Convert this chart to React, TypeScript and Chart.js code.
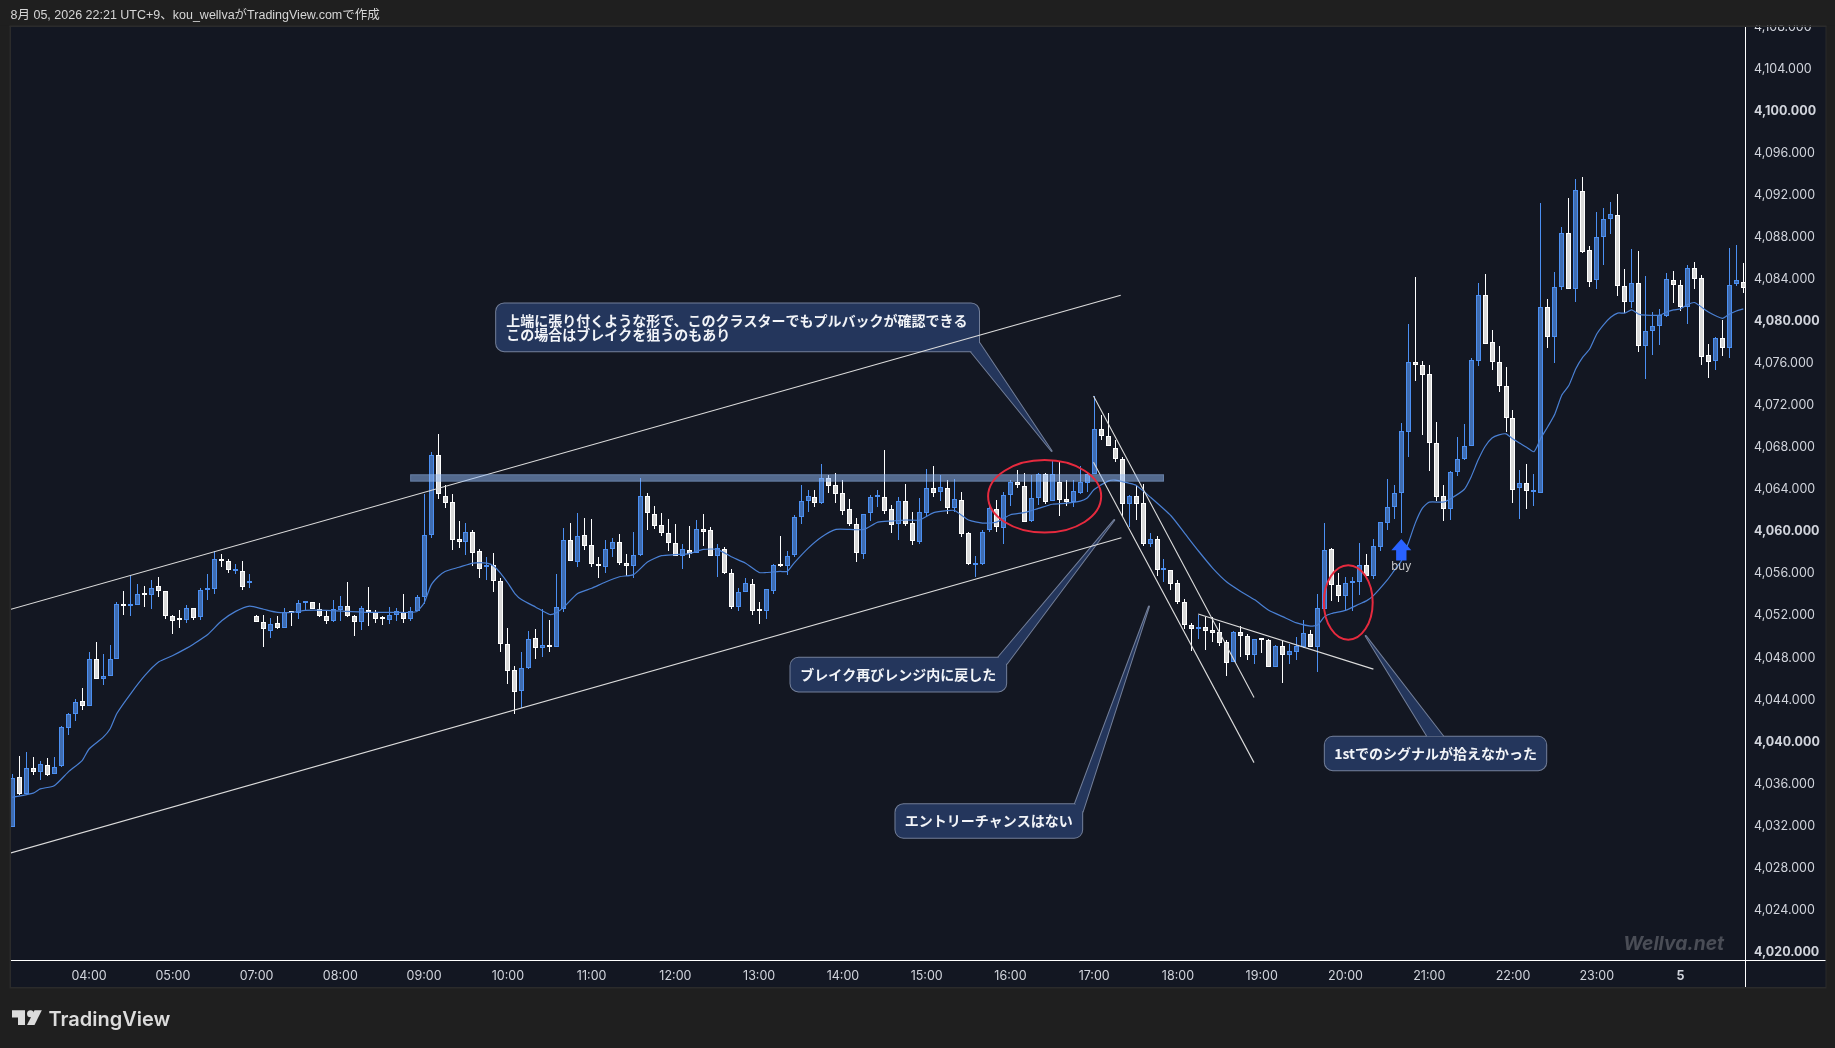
import React, { useEffect, useRef } from "react";
import { Chart, registerables } from "chart.js";

Chart.register(...registerables);

const opens = [
  4031.8,4036.5,4034.9,4037.4,4037.0,4037.7,4036.8,4037.6,4041.2,4042.5,
  4043.8,4043.3,4047.8,4045.9,4046.1,4047.8,4053.0,4052.8,4052.9,4054.0,
  4053.9,4054.7,4054.2,4051.9,4051.6,4051.5,4052.6,4051.8,4054.3,4054.4,
  4057.3,4057.1,4056.1,4056.1,4055.0,4051.9,4051.3,4050.4,4051.2,4050.7,
  4052.2,4052.1,4053.1,4053.2,4052.5,4051.9,4051.4,4052.4,4052.8,4051.9,
  4051.3,4052.4,4052.2,4051.7,4051.5,4052.0,4052.2,4051.6,4052.3,4053.7,
  4059.6,4067.2,4063.3,4062.7,4059.2,4058.9,4059.9,4058.0,4056.5,4056.7,
  4055.2,4049.2,4046.7,4044.7,4046.9,4049.8,4048.8,4049.1,4048.9,4052.5,
  4059.1,4057.0,4059.6,4058.6,4056.8,4056.5,4058.2,4058.9,4056.9,4056.6,
  4057.7,4063.3,4061.6,4060.5,4059.8,4058.8,4057.6,4058.1,4057.9,4060.1,
  4060.0,4057.6,4058.2,4056.0,4052.7,4054.1,4054.9,4052.4,4052.3,4054.2,
  4056.7,4056.6,4057.7,4061.3,4062.8,4063.2,4062.6,4065.0,4064.3,4063.6,
  4062.0,4060.6,4057.8,4061.7,4063.2,4063.2,4062.0,4060.6,4062.8,4060.7,
  4058.9,4061.7,4064.0,4063.7,4064.0,4062.1,4062.9,4059.8,4056.7,4056.8,
  4060.0,4062.0,4060.2,4063.4,4064.6,4064.2,4060.9,4063.1,4065.4,4062.8,
  4064.6,4063.0,4062.7,4063.6,4064.5,4065.4,4069.7,4069.0,4067.9,4066.8,
  4062.5,4063.3,4062.6,4058.7,4059.2,4056.2,4056.2,4055.0,4053.2,4051.0,
  4050.6,4050.8,4050.5,4050.3,4049.4,4047.5,4050.3,4050.0,4048.1,4049.7,
  4049.6,4047.0,4049.0,4048.1,4048.4,4048.9,4050.1,4048.9,4052.5,4058.2,
  4054.8,4053.8,4055.0,4055.1,4056.7,4055.7,4058.4,4060.7,4062.2,4063.6,
  4069.4,4076.0,4075.8,4074.9,4068.3,4063.3,4062.0,4065.6,4066.8,4068.0,
  4076.1,4082.4,4077.9,4076.0,4073.8,4070.7,4064.0,4064.5,4063.7,4063.6,
  4081.3,4078.4,4083.2,4088.3,4083.0,4092.3,4086.7,4083.8,4087.9,4089.7,
  4090.0,4083.3,4081.8,4083.6,4077.6,4079.0,4079.5,4080.4,4083.8,4083.4,
  4081.3,4085.0,4084.0,4076.7,4076.1,4078.3,4077.4,4083.5,4083.7,
];

const highs = [
  4036.8,4038.5,4038.9,4038.4,4038.1,4038.3,4038.4,4041.4,4042.6,4044.0,
  4045.0,4048.4,4049.4,4048.2,4049.1,4053.2,4054.2,4055.7,4054.9,4054.7,
  4055.3,4055.6,4054.2,4052.0,4052.4,4052.9,4052.6,4054.5,4055.9,4058.0,
  4057.8,4057.3,4056.8,4057.1,4055.9,4052.0,4052.0,4051.7,4051.9,4052.6,
  4052.3,4053.4,4053.2,4053.2,4053.1,4052.3,4053.4,4053.8,4055.1,4052.0,
  4052.8,4054.6,4052.4,4051.9,4052.7,4052.6,4054.0,4052.7,4053.9,4063.5,
  4067.5,4069.2,4064.3,4063.5,4060.9,4060.7,4060.0,4058.2,4057.5,4057.9,
  4055.5,4050.7,4047.1,4048.4,4050.4,4050.6,4052.5,4051.5,4055.9,4060.2,
  4060.7,4061.7,4061.2,4061.1,4057.5,4059.1,4059.3,4059.7,4057.8,4059.9,
  4065.0,4063.6,4062.3,4061.7,4061.1,4060.6,4058.7,4060.4,4061.0,4061.6,
  4060.3,4058.7,4058.4,4056.3,4054.5,4055.5,4055.4,4053.2,4054.4,4056.8,
  4059.5,4058.0,4061.5,4064.3,4063.9,4063.9,4066.3,4065.3,4065.5,4064.8,
  4063.0,4061.2,4061.6,4063.4,4063.9,4067.7,4062.4,4063.2,4064.4,4061.8,
  4063.1,4065.9,4066.1,4065.3,4064.8,4064.9,4063.7,4059.9,4057.6,4060.0,
  4062.4,4062.9,4063.7,4064.8,4065.8,4065.5,4065.3,4065.5,4065.5,4066.6,
  4066.5,4064.8,4064.8,4066.1,4065.6,4072.8,4071.0,4071.2,4068.6,4067.0,
  4063.4,4064.2,4064.4,4059.8,4059.5,4057.3,4056.2,4055.3,4053.5,4051.2,
  4052.0,4051.8,4051.8,4051.2,4049.6,4050.4,4050.9,4050.1,4049.7,4049.7,
  4049.7,4049.1,4049.5,4049.2,4049.9,4051.5,4050.5,4054.0,4060.7,4058.3,
  4056.0,4055.6,4055.6,4058.8,4057.8,4059.2,4060.8,4064.9,4064.3,4070.2,
  4079.7,4084.1,4076.1,4075.8,4070.3,4064.3,4065.7,4068.9,4070.1,4076.4,
  4083.6,4084.4,4079.1,4077.6,4075.6,4071.5,4065.8,4066.3,4065.4,4091.2,
  4082.0,4084.6,4088.9,4091.7,4093.5,4093.7,4087.1,4090.3,4090.7,4091.3,
  4092.0,4084.9,4086.8,4086.6,4084.2,4080.8,4081.1,4084.5,4084.7,4083.8,
  4085.3,4085.6,4084.3,4077.8,4078.4,4080.0,4086.9,4087.2,4085.5,
];

const lows = [
  4031.8,4034.8,4034.8,4036.7,4036.2,4036.6,4036.8,4037.5,4040.5,4041.9,
  4042.9,4043.3,4045.9,4045.3,4046.1,4047.8,4052.0,4051.9,4052.9,4052.7,
  4052.5,4053.7,4051.6,4050.1,4050.7,4051.2,4051.5,4051.5,4053.4,4054.0,
  4056.5,4056.0,4055.9,4054.3,4054.5,4051.3,4048.9,4049.8,4050.6,4050.7,
  4050.9,4051.6,4052.3,4052.5,4051.8,4051.1,4051.3,4051.4,4051.8,4050.0,
  4050.5,4050.9,4051.2,4051.0,4051.1,4051.4,4051.2,4051.4,4052.3,4053.0,
  4059.3,4063.0,4062.1,4058.1,4058.3,4057.7,4056.6,4055.5,4055.3,4054.1,
  4048.4,4045.4,4042.5,4043.1,4046.8,4047.8,4048.0,4048.4,4048.9,4052.2,
  4057.1,4056.5,4058.1,4056.5,4055.5,4056.0,4057.5,4056.7,4055.7,4055.5,
  4057.6,4060.0,4060.1,4059.5,4058.0,4057.6,4056.3,4057.4,4057.9,4058.5,
  4057.6,4055.6,4055.9,4052.5,4052.3,4054.1,4052.0,4051.1,4051.6,4054.0,
  4056.5,4055.8,4057.5,4060.6,4061.8,4062.2,4062.5,4063.6,4062.6,4061.5,
  4060.4,4057.0,4057.3,4060.9,4062.2,4061.6,4059.8,4059.1,4060.4,4058.6,
  4058.7,4061.3,4063.2,4062.8,4061.6,4061.8,4059.4,4056.7,4055.6,4056.7,
  4059.9,4059.9,4058.7,4062.3,4064.0,4060.8,4060.8,4062.4,4062.5,4062.8,
  4061.4,4062.3,4062.2,4063.5,4063.7,4065.4,4068.6,4068.0,4066.5,4061.4,
  4060.3,4061.0,4058.5,4058.4,4055.7,4055.1,4054.3,4053.0,4050.6,4048.5,
  4049.7,4048.6,4049.4,4049.0,4046.1,4047.5,4048.0,4047.7,4047.3,4048.3,
  4047.0,4047.0,4045.5,4047.3,4047.7,4048.8,4048.9,4046.5,4052.5,4053.3,
  4053.2,4052.4,4052.3,4053.9,4055.7,4055.4,4058.0,4060.0,4061.1,4059.8,
  4067.0,4074.2,4069.1,4065.7,4062.8,4060.9,4061.0,4065.2,4066.7,4068.0,
  4075.7,4077.8,4075.3,4073.2,4069.4,4062.6,4061.1,4062.0,4062.3,4063.6,
  4077.4,4075.9,4082.9,4083.0,4081.8,4086.4,4083.2,4083.0,4085.3,4088.2,
  4082.3,4080.7,4081.2,4077.0,4074.4,4076.7,4077.7,4080.3,4081.7,4080.9,
  4079.7,4083.0,4075.8,4074.5,4075.3,4076.6,4076.4,4083.3,4082.6,
];

const closes = [
  4036.4,4034.9,4037.4,4037.0,4037.8,4036.7,4037.5,4041.3,4042.5,4043.7,
  4043.3,4047.8,4045.9,4046.1,4047.8,4053.0,4052.8,4053.0,4054.0,4053.9,
  4054.5,4054.2,4051.9,4051.4,4051.5,4052.6,4051.7,4054.3,4054.4,4057.3,
  4057.1,4056.2,4056.2,4054.6,4055.2,4051.3,4050.6,4051.1,4050.7,4052.2,
  4052.1,4053.1,4053.2,4052.5,4051.9,4051.4,4052.5,4052.8,4051.9,4051.3,
  4052.6,4052.2,4051.6,4051.6,4052.0,4052.3,4051.6,4052.3,4053.7,4059.6,
  4067.2,4063.5,4062.6,4059.1,4058.9,4059.9,4057.9,4056.3,4056.6,4055.2,
  4049.2,4046.6,4044.6,4046.9,4049.7,4048.8,4049.1,4048.9,4052.7,4059.1,
  4057.1,4059.5,4058.5,4056.8,4056.6,4058.2,4058.9,4056.9,4056.6,4057.7,
  4063.3,4061.7,4060.4,4059.8,4058.8,4057.6,4058.2,4057.8,4060.1,4059.9,
  4057.6,4058.3,4056.0,4052.7,4054.1,4055.0,4052.3,4052.3,4054.4,4056.7,
  4056.6,4057.6,4061.3,4062.8,4063.3,4062.6,4065.0,4064.2,4063.5,4061.9,
  4060.6,4057.9,4061.6,4063.2,4063.2,4061.9,4060.5,4062.8,4060.6,4059.0,
  4061.8,4064.0,4063.6,4064.1,4062.1,4063.0,4059.7,4056.8,4056.8,4059.9,
  4062.1,4060.3,4063.4,4064.6,4064.3,4060.8,4063.1,4065.4,4062.7,4065.4,
  4062.9,4062.7,4063.8,4064.6,4065.4,4069.7,4069.0,4068.0,4066.8,4062.5,
  4063.3,4062.5,4058.7,4059.2,4056.2,4056.2,4054.9,4053.2,4051.0,4050.6,
  4050.8,4050.4,4050.2,4049.3,4047.4,4050.3,4050.0,4048.1,4049.7,4049.6,
  4047.0,4049.0,4048.1,4048.5,4049.0,4050.2,4048.9,4052.6,4058.1,4054.8,
  4053.8,4055.0,4055.0,4056.7,4055.7,4058.5,4060.8,4062.2,4063.6,4069.5,
  4076.0,4075.8,4074.8,4068.3,4063.2,4062.0,4065.6,4066.8,4068.0,4076.2,
  4082.4,4077.8,4076.0,4073.8,4070.7,4063.9,4064.5,4063.8,4063.7,4081.3,
  4078.4,4083.2,4088.3,4083.0,4092.4,4086.5,4083.7,4087.9,4089.7,4090.1,
  4083.3,4081.8,4083.6,4077.6,4079.0,4079.5,4080.5,4083.9,4083.4,4081.3,
  4085.0,4083.9,4076.5,4076.0,4078.3,4077.4,4083.4,4083.8,4083.1,
];

// Moving average, read at the visible vertices of the line.
const maIndex = [
  0,3,4,6,8,10,11,13,14,15,17,19,21,23,25,26,28,30,32,34,
  36,38,40,42,45,48,51,55,57,58,59,60,61,62,64,66,68,69,70,71,
  72,73,75,77,78,79,81,83,85,87,89,91,93,95,97,99,101,103,105,107,
  108,110,111,112,114,116,118,120,122,124,126,128,130,132,134,135,137,139,141,143,
  145,147,149,151,153,154,155,157,158,160,161,163,166,168,170,172,174,176,178,180,
  182,184,186,187,188,189,191,193,194,195,197,198,199,200,201,202,203,205,206,208,
  209,210,211,212,213,214,215,216,217,218,219,220,221,222,223,224,225,226,227,228,
  229,230,231,232,233,234,236,237,238,239,240,241,243,245,246,247,248,
];
const maValues = [
  4034.6,4035.0,4035.4,4035.7,4037.0,4038.1,4039.2,4040.3,4041.1,4042.6,4044.5,4046.2,4047.5,4048.1,4048.8,4049.2,4050.1,4051.4,4052.3,4052.8,
  4052.5,4052.2,4052.2,4052.4,4052.4,4052.3,4052.2,4052.2,4052.2,4052.3,4053.1,4054.8,4055.6,4056.1,4056.5,4056.9,4056.9,4056.6,4055.9,4055.0,
  4054.0,4053.4,4052.7,4052.0,4052.2,4052.7,4054.0,4054.5,4055.1,4055.6,4055.8,4057.0,4057.6,4057.7,4057.8,4058.2,4058.2,4057.5,4056.9,4056.0,
  4056.0,4056.1,4056.1,4056.9,4058.3,4059.4,4060.1,4060.1,4060.1,4060.8,4060.9,4061.0,4061.0,4061.7,4061.9,4061.9,4061.0,4060.7,4060.8,4061.5,
  4061.7,4062.1,4062.5,4062.6,4062.8,4063.1,4063.9,4064.7,4064.8,4064.5,4064.3,4063.2,4061.4,4059.7,4058.0,4056.4,4055.1,4054.2,4053.4,4052.4,
  4051.8,4051.2,4050.9,4051.0,4051.8,4052.1,4052.4,4053.0,4053.3,4053.8,4055.3,4056.2,4057.1,4058.8,4060.7,4062.1,4062.7,4062.7,4063.0,4063.9,
  4065.1,4066.7,4068.0,4068.8,4069.1,4069.2,4068.7,4068.3,4067.9,4067.5,4068.8,4069.9,4071.1,4072.9,4073.8,4075.4,4076.5,4077.3,4078.7,4079.6,
  4080.3,4080.7,4080.7,4081.0,4080.6,4080.5,4080.5,4080.8,4081.0,4081.1,4081.5,4081.7,4080.8,4080.2,4080.6,4080.9,4081.1,
];

const timeTickIndex = [11,23,35,47,59,71,83,95,107,119,131,143,155,167,179,191,203,215,227,239];
const timeTickLabels = ["04:00","05:00","07:00","08:00","09:00","10:00","11:00","12:00","13:00","14:00","15:00","16:00","17:00","18:00","19:00","20:00","21:00","22:00","23:00","5"];
const boldTimeLabels = ["5"];

const priceTicks = [4020,4024,4028,4032,4036,4040,4044,4048,4052,4056,4060,4064,4068,4072,4076,4080,4084,4088,4092,4096,4100,4104,4108];
const boldPriceTicks = [4020,4040,4060,4080,4100];

const channelUpper = [{ x: -0.2, y: 4052.5 }, { x: 158.8, y: 4082.4 }];
const channelLower = [{ x: -0.2, y: 4029.3 }, { x: 158.9, y: 4059.3 }];
const fallingA = [{ x: 154.9, y: 4072.8 }, { x: 177.9, y: 4044.1 }];
const fallingB = [{ x: 154.9, y: 4066.5 }, { x: 177.9, y: 4037.9 }];
const flagTop = [{ x: 169.9, y: 4052.05 }, { x: 195.0, y: 4046.8 }];

const rangeBand = { x0: 57.0, x1: 165.0, top: 4065.35, bottom: 4064.65 };
const ellipses = [
  { x0: 139.8, x1: 156.0, top: 4066.7, bottom: 4059.8 },
  { x0: 187.9, x1: 194.9, top: 4056.7, bottom: 4049.6 },
];
const buyMark = { x: 199.0, y: 4059.2, label: "buy" };

const callouts = [
  {
    lines: ["上端に張り付くような形で、このクラスターでもプルバックが確認できる", "この場合はブレイクを狙うのもあり"],
    x0: 69.25, x1: 138.57, top: 4081.66, bottom: 4077.02,
    tail: [[137.35, 4077.02], [148.9, 4067.57], [138.57, 4077.85]],
    size: 14, align: "left",
  },
  {
    lines: ["ブレイク再びレンジ内に戻した"],
    x0: 111.42, x1: 142.46, top: 4047.93, bottom: 4044.63,
    tail: [[141.26, 4047.93], [157.88, 4061.0], [142.46, 4047.29]],
    size: 14, align: "center",
  },
  {
    lines: ["エントリーチャンスはない"],
    x0: 126.46, x1: 153.35, top: 4033.99, bottom: 4030.7,
    tail: [[152.25, 4033.99], [162.85, 4052.77], [153.35, 4033.23]],
    size: 14, align: "center",
  },
  {
    lines: ["1stでのシグナルが拾えなかった"],
    x0: 187.97, x1: 219.83, top: 4040.41, bottom: 4037.13,
    tail: [[202.72, 4040.41], [193.9, 4049.96], [205.0, 4040.41]],
    size: 14, align: "center",
  },
];

const headerText = "8月 05, 2026 22:21 UTC+9、kou_wellvaがTradingView.comで作成";
const watermarkText = "Wellva.net";
const brandText = "TradingView";

const UP_EDGE = "#4b8ff2";
const UP_FILL = "#3f6cb0";
const DOWN_EDGE = "#ffffff";
const DOWN_FILL = "#d9d9d9";
const PAGE = "#1f1f1f";
const PANEL = "#131722";
const FRAME = "#2b2b2b";
const SANS = '"Inter", "Noto Sans CJK JP", sans-serif';

const overlay = {
  id: "overlay",
  afterDatasetsUpdate(chart: any) {
    // Snap candle edges to whole device pixels, values still come from the scales.
    chart.getSortedVisibleDatasetMetas().forEach((meta: any) => {
      if (meta.type !== "bar") return;
      meta.data.forEach((el: any) => {
        el.x = Math.round(el.x - 0.5) + 0.5;
        el.y = Math.round(el.y);
        el.base = Math.round(el.base);
      });
    });
  },
  beforeDraw(chart: any) {
    const { ctx, width, height } = chart;
    ctx.save();
    ctx.fillStyle = PAGE;
    ctx.fillRect(0, 0, width, height);
    ctx.fillStyle = FRAME;
    ctx.fillRect(9.5, 25.5, 1817, 963);
    ctx.fillStyle = PANEL;
    ctx.fillRect(11, 27, 1814.5, 960);
    ctx.restore();
  },
  beforeDatasetsDraw(chart: any) {
    const { ctx, scales } = chart;
    const X = (v: number) => scales.x.getPixelForValue(v);
    const Y = (v: number) => scales.y.getPixelForValue(v);
    ctx.save();
    for (const c of callouts) {
      const l = X(c.x0), r = X(c.x1), t = Y(c.top), b = Y(c.bottom);
      const box = new Path2D();
      box.roundRect(l + 0.5, t + 0.5, r - l - 1, b - t - 1, 8);
      const tail = new Path2D();
      c.tail.forEach((p, i) => {
        const px = X(p[0]), py = Y(p[1]);
        if (i === 0) tail.moveTo(px, py);
        else tail.lineTo(px, py);
      });
      tail.closePath();
      ctx.strokeStyle = "#737f99";
      ctx.lineWidth = 2;
      ctx.lineJoin = "round";
      ctx.stroke(box);
      ctx.stroke(tail);
      ctx.fillStyle = "#24365c";
      ctx.fill(box);
      ctx.fill(tail);
      ctx.fillStyle = "#f2f4f8";
      ctx.font = `700 ${c.size}px "Noto Sans CJK JP", sans-serif`;
      ctx.textBaseline = "middle";
      const mid = (t + b) / 2;
      const lh = 14;
      c.lines.forEach((line, i) => {
        const y = mid + (i - (c.lines.length - 1) / 2) * lh;
        if (c.align === "left") {
          ctx.textAlign = "left";
          ctx.fillText(line, l + 10.5, y);
        } else {
          ctx.textAlign = "center";
          ctx.fillText(line, (l + r) / 2, y);
        }
      });
    }
    ctx.restore();
  },
  afterDatasetsDraw(chart: any) {
    const { ctx, scales, chartArea } = chart;
    const X = (v: number) => scales.x.getPixelForValue(v);
    const Y = (v: number) => scales.y.getPixelForValue(v);
    ctx.save();
    ctx.beginPath();
    ctx.rect(chartArea.left, chartArea.top, chartArea.width, chartArea.height);
    ctx.clip();

    const bx = X(rangeBand.x0), bw = X(rangeBand.x1) - bx;
    const by = Y(rangeBand.top), bh = Y(rangeBand.bottom) - by;
    ctx.fillStyle = "rgba(150,190,250,0.5)";
    ctx.fillRect(bx, by, bw, bh);
    ctx.strokeStyle = "rgba(160,190,240,0.25)";
    ctx.lineWidth = 1;
    ctx.strokeRect(bx + 0.5, by + 0.5, bw - 1, bh - 1);

    ctx.strokeStyle = "#e62a3e";
    ctx.lineWidth = 2;
    for (const e of ellipses) {
      const l = X(e.x0), r = X(e.x1), t = Y(e.top), b = Y(e.bottom);
      ctx.beginPath();
      ctx.ellipse((l + r) / 2, (t + b) / 2, (r - l) / 2, (b - t) / 2, 0, 0, Math.PI * 2);
      ctx.stroke();
    }

    const ax = X(buyMark.x), ay = Y(buyMark.y);
    ctx.fillStyle = "#2962ff";
    ctx.beginPath();
    ctx.moveTo(ax, ay);
    ctx.lineTo(ax + 10, ay + 11.3);
    ctx.lineTo(ax + 5.2, ay + 11.3);
    ctx.lineTo(ax + 5.2, ay + 21.5);
    ctx.lineTo(ax - 5.2, ay + 21.5);
    ctx.lineTo(ax - 5.2, ay + 11.3);
    ctx.lineTo(ax - 10, ay + 11.3);
    ctx.closePath();
    ctx.fill();
    ctx.fillStyle = "#c8c9cc";
    ctx.font = `11.5px ${SANS}`;
    ctx.textAlign = "center";
    ctx.textBaseline = "middle";
    ctx.fillText(buyMark.label, ax, ay + 28);

    ctx.fillStyle = "#4a4d56";
    ctx.font = `italic 700 19.2px ${SANS}`;
    ctx.textAlign = "right";
    ctx.textBaseline = "middle";
    ctx.fillText(watermarkText, 1724, 944);
    ctx.restore();
  },
  afterDraw(chart: any) {
    const { ctx, width } = chart;
    ctx.save();
    // Top strip clips the topmost price label, as the frame does.
    ctx.fillStyle = PAGE;
    ctx.fillRect(0, 0, width, 25.5);
    ctx.fillStyle = FRAME;
    ctx.fillRect(9.5, 25.5, 1817, 1.5);

    ctx.fillStyle = "#ffffff";
    ctx.fillRect(11, 960, 1814.5, 1);
    ctx.fillRect(1745, 27, 1, 960);

    ctx.fillStyle = "#d6d6d6";
    ctx.font = '12.5px "Liberation Sans", "Noto Sans CJK JP", sans-serif';
    ctx.textAlign = "left";
    ctx.textBaseline = "middle";
    ctx.fillText(headerText, 10.5, 16);

    ctx.fillStyle = "#dcdcdc";
    ctx.beginPath();
    ctx.moveTo(12, 1010.3);
    ctx.lineTo(25, 1010.3);
    ctx.lineTo(25, 1025);
    ctx.lineTo(18, 1025);
    ctx.lineTo(18, 1017.4);
    ctx.lineTo(12, 1017.4);
    ctx.closePath();
    ctx.fill();
    ctx.beginPath();
    ctx.arc(30.5, 1013.8, 3.5, 0, Math.PI * 2);
    ctx.fill();
    ctx.beginPath();
    ctx.moveTo(34.5, 1010.3);
    ctx.lineTo(41.8, 1010.3);
    ctx.lineTo(34.5, 1025);
    ctx.lineTo(27, 1025);
    ctx.closePath();
    ctx.fill();

    ctx.font = '600 20px "Inter", sans-serif';
    ctx.textBaseline = "alphabetic";
    ctx.fillText(brandText, 48.5, 1025.5);
    ctx.restore();
  },
};

export default function App() {
  const ref = useRef<HTMLCanvasElement | null>(null);
  useEffect(() => {
    const isUp = opens.map((o, i) => closes[i] >= o);
    const trend = (data: { x: number; y: number }[]) => ({
      type: "line" as const,
      data,
      borderColor: "#dcdcdc",
      borderWidth: 1.1,
      pointRadius: 0,
      order: 0,
    });
    const chart = new Chart(ref.current as HTMLCanvasElement, {
      type: "bar",
      plugins: [overlay],
      data: {
        datasets: [
          {
            type: "line",
            data: maIndex.map((x, i) => ({ x, y: maValues[i] })),
            borderColor: "#4a80d4",
            borderWidth: 1.2,
            pointRadius: 0,
            tension: 0.2,
            order: 1,
          },
          trend(channelUpper),
          trend(channelLower),
          trend(fallingA),
          trend(fallingB),
          trend(flagTop),
          {
            type: "bar",
            data: opens.map((o, i) => ({ x: i, y: [o, closes[i]] })),
            backgroundColor: isUp.map((u) => (u ? UP_FILL : DOWN_FILL)),
            borderColor: isUp.map((u) => (u ? UP_EDGE : DOWN_EDGE)),
            borderWidth: 1,
            borderSkipped: false,
            barThickness: 5,
            minBarLength: 2,
            inflateAmount: 0,
            grouped: false,
            order: 2,
          },
          {
            type: "bar",
            data: lows.map((l, i) => ({ x: i, y: [l, highs[i]] })),
            backgroundColor: isUp.map((u) => (u ? UP_EDGE : DOWN_EDGE)),
            borderWidth: 0,
            barThickness: 1,
            inflateAmount: 0,
            grouped: false,
            order: 3,
          },
        ] as any,
      },
      options: {
        responsive: false,
        animation: false,
        events: [],
        devicePixelRatio: 1,
        layout: { padding: { left: 11, right: 10, top: 26.3, bottom: 61 } },
        plugins: { legend: { display: false }, tooltip: { enabled: false }, title: { display: false } },
        scales: {
          x: {
            type: "linear",
            offset: false,
            min: -0.186,
            max: 248.24,
            grid: { display: false },
            border: { display: false },
            afterBuildTicks: (s: any) => {
              s.ticks = timeTickIndex.map((value) => ({ value }));
            },
            afterFit: (s: any) => {
              s.height = 27;
            },
            ticks: {
              autoSkip: false,
              maxRotation: 0,
              minRotation: 0,
              padding: 0.5,
              color: "#d1d4dc",
              font: (c: any) => {
                const label = timeTickLabels[timeTickIndex.indexOf(c.tick?.value)];
                return { family: "Inter", size: 12.5, weight: boldTimeLabels.includes(label) ? 700 : 400 };
              },
              callback: (v: any) => timeTickLabels[timeTickIndex.indexOf(v)],
            },
          },
          y: {
            position: "right",
            min: 4019.11,
            max: 4108,
            grid: { display: false },
            border: { display: false },
            afterBuildTicks: (s: any) => {
              s.ticks = priceTicks.map((value) => ({ value }));
            },
            afterFit: (s: any) => {
              s.width = 80;
            },
            ticks: {
              autoSkip: false,
              padding: 1,
              labelOffset: 1.2,
              color: "#d1d4dc",
              font: (c: any) => ({
                family: "Inter",
                size: 12.5,
                weight: boldPriceTicks.includes(c.tick?.value) ? 700 : 400,
              }),
              callback: (v: any) =>
                Number(v).toLocaleString("en-US", { minimumFractionDigits: 3, maximumFractionDigits: 3 }),
            },
          },
        },
      } as any,
    });
    return () => chart.destroy();
  }, []);
  return (
    <div style={{ position: "fixed", left: 0, top: 0, width: 1835, height: 1048, background: PAGE }}>
      <canvas ref={ref} width={1835} height={1048} style={{ display: "block", width: 1835, height: 1048 }} />
    </div>
  );
}
